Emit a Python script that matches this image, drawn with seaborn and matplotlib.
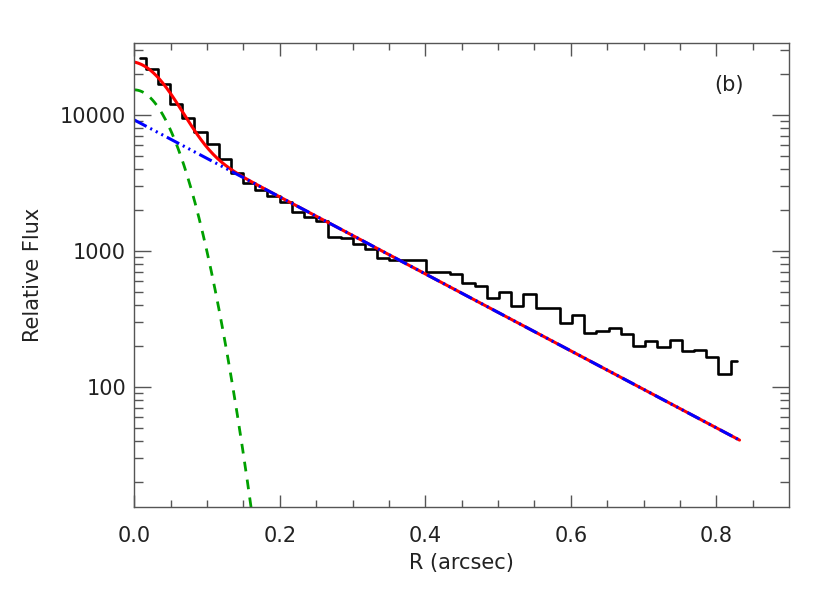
import numpy as np
import pandas as pd
import matplotlib
matplotlib.use("Agg")
import matplotlib.pyplot as plt
import seaborn as sns
from matplotlib.ticker import FixedLocator, NullFormatter, FixedFormatter

# ---- data -------------------------------------------------------------
# radial bins (arcsec), regular grid of bin centres
r_centres = np.linspace(0.0072, 0.828, 50)
flux_obs = [26400, 21700, 16900, 12000, 9550, 7470, 6090, 4780, 3730, 3150,
            2810, 2550, 2300, 1945, 1770, 1660, 1275, 1250, 1120, 1035,
            893, 859, 860, 860, 697, 703, 678, 578, 553, 449,
            497, 396, 483, 383, 379, 294, 338, 248, 260, 273,
            245, 200, 219, 198, 222, 184, 187, 167, 124, 156]

# model components (fit parameters)
gauss_peak, gauss_sigma = 15300.0, 0.0427
exp_peak, exp_scale = 9190.0, 0.1535
r_model = np.linspace(0.0, 0.832, 600)

gauss = gauss_peak * np.exp(-r_model**2 / (2 * gauss_sigma**2))
expo = exp_peak * np.exp(-r_model / exp_scale)
total = gauss + expo

df_obs = pd.DataFrame({"R": r_centres, "flux": flux_obs})
df_mod = pd.DataFrame({"R": r_model, "gauss": gauss, "expo": expo, "total": total})

# ---- style ------------------------------------------------------------
sns.set_theme(style="ticks")
plt.rcParams["font.family"] = ["DejaVu Sans"]
plt.rcParams["lines.scale_dashes"] = False
txt_col = "#222222"
ax_col = "#555555"

fig = plt.figure(figsize=(8.3, 5.93), dpi=100)
ax = fig.add_axes([0.1618, 0.145, 0.9506 - 0.1618, 0.928 - 0.145])
ax.set_yscale("log")

sns.lineplot(data=df_obs, x="R", y="flux", ax=ax, color="black", lw=1.9,
             drawstyle="steps-mid", estimator=None, sort=True)
sns.lineplot(data=df_mod, x="R", y="gauss", ax=ax, color="#00a000", lw=2.0,
             estimator=None, linestyle=(0, (7, 6)))
sns.lineplot(data=df_mod, x="R", y="total", ax=ax, color="#ff0000", lw=2.2,
             estimator=None)
sns.lineplot(data=df_mod, x="R", y="expo", ax=ax, color="#0000ff", lw=2.2,
             estimator=None, linestyle=(0, (10, 3, 1.5, 3, 1.5, 3, 1.5, 3)))

ax.set_xlim(0, 0.9)
ax.set_ylim(13.1, 34000)

ax.set_xticks([0.0, 0.2, 0.4, 0.6, 0.8])
ax.set_xticklabels(["0.0", "0.2", "0.4", "0.6", "0.8"])
ax.xaxis.set_minor_locator(FixedLocator(np.arange(0.05, 0.9, 0.05)))
ax.yaxis.set_major_locator(FixedLocator([100, 1000, 10000]))
ax.yaxis.set_major_formatter(FixedFormatter(["100", "1000", "10000"]))
minors = [m * d for d in (10, 100, 1000, 10000) for m in range(2, 10)]
ax.yaxis.set_minor_locator(FixedLocator(minors))
ax.yaxis.set_minor_formatter(NullFormatter())

ax.tick_params(axis="both", which="both", direction="in", top=True, right=True,
               colors=ax_col, labelcolor=txt_col, labelsize=15, width=1.0)
ax.tick_params(axis="x", which="major", length=9, pad=14)
ax.tick_params(axis="x", which="minor", length=5)
ax.tick_params(axis="y", which="major", length=12.5, pad=6)
ax.tick_params(axis="y", which="minor", length=6.5)
for s in ax.spines.values():
    s.set_color(ax_col)
    s.set_linewidth(1.0)

ax.set_xlabel("R (arcsec)", fontsize=15, color=txt_col, labelpad=5)
ax.set_ylabel("Relative Flux", fontsize=15, color=txt_col, labelpad=12)
ax.text(0.818, 16600, "(b)", fontsize=15, color=txt_col, ha="center", va="center")

fig.savefig("out.png", dpi=100)
